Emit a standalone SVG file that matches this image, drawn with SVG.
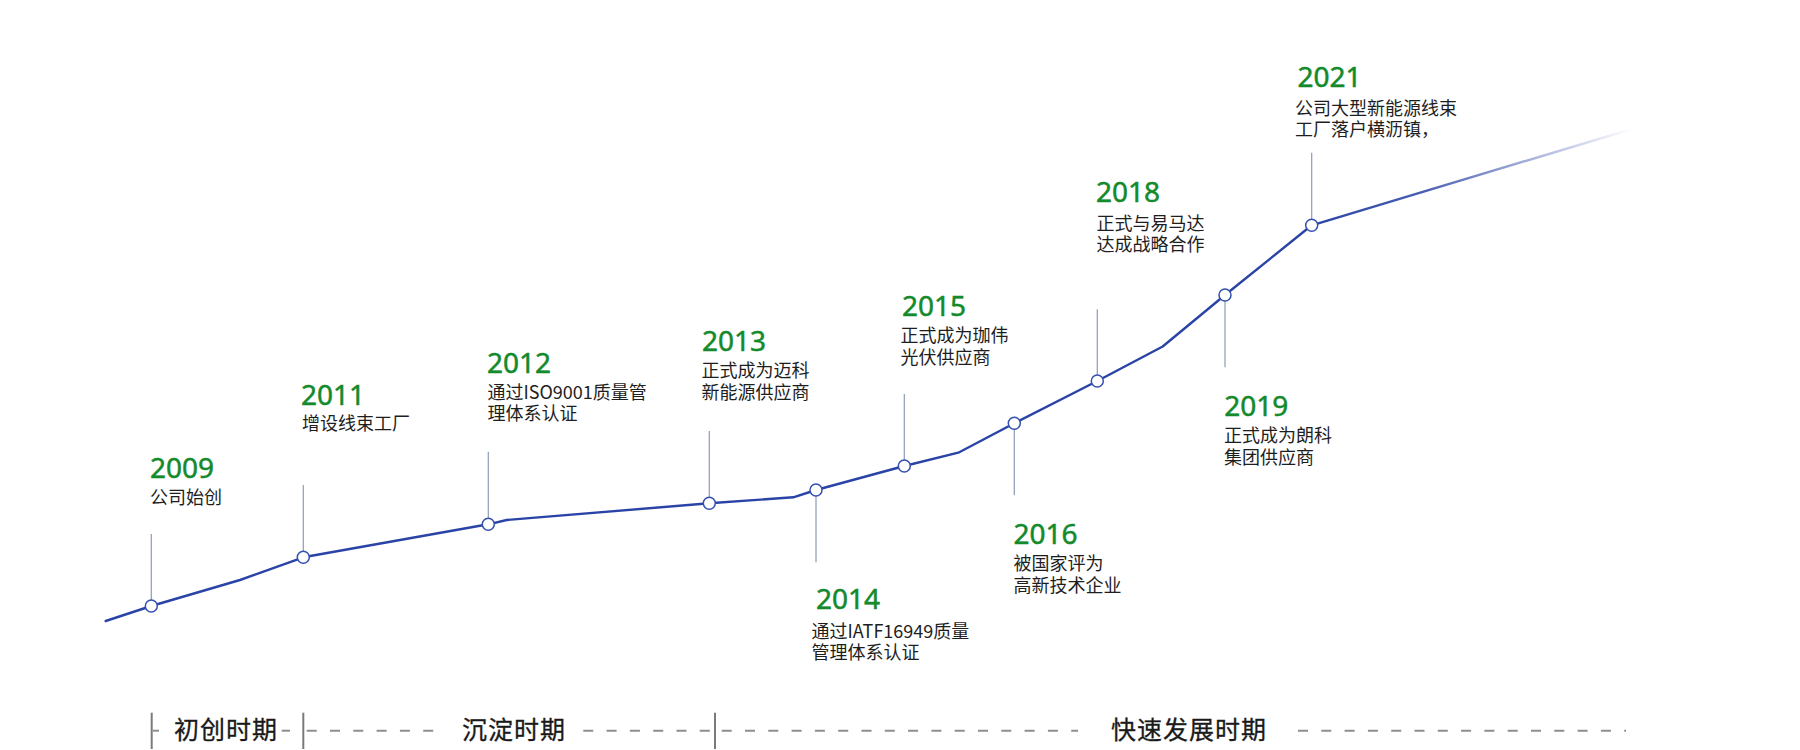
<svg xmlns="http://www.w3.org/2000/svg" width="1800" height="750" viewBox="0 0 1800 750">
  <defs>
    <linearGradient id="fade" gradientUnits="userSpaceOnUse" x1="1311.7" y1="225.3" x2="1632" y2="129">
      <stop offset="0" stop-color="#2a43a6" stop-opacity="1"/>
      <stop offset="0.35" stop-color="#2a43a6" stop-opacity="0.85"/>
      <stop offset="1" stop-color="#2a43a6" stop-opacity="0"/>
    </linearGradient>
    <style>
      .year { font-family: "Noto Sans", "Open Sans", "Noto Sans CJK SC", sans-serif; font-size: 28px; fill: #138a2c; stroke: #138a2c; stroke-width: 0.5px; }
      .desc { font-family: "Noto Sans CJK SC", "Noto Sans", sans-serif; font-size: 18px; fill: #1e1e1e; }
      .phase { font-family: "Noto Sans CJK SC", sans-serif; font-size: 25px; fill: #1a1a1a; letter-spacing: 1px; stroke: #1a1a1a; stroke-width: 0.3px; }
      .tick { stroke: #8d9bb6; stroke-width: 1.2; fill: none; }
      .node { fill: #ffffff; stroke: #3550b0; stroke-width: 1.5; }
      .main { fill: none; stroke: #2a43a6; stroke-width: 2.4; stroke-linejoin: round; stroke-linecap: round; }
      .dash { stroke: #8e8e8e; stroke-width: 2; stroke-dasharray: 10 13.3; fill: none; }
      .ptick { stroke: #7a7a7a; stroke-width: 2; }
    </style>
  </defs>
  <rect width="1800" height="750" fill="#ffffff"/>

  <g id="connectors">
    <polyline class="main" points="105.7,621 151.3,606 240,580 303.3,557.3 488.3,524.3 506.7,520 709.3,503.3 793.3,497.3 816,490 904.3,466 958.3,452.7 1014.3,423.3 1097.3,381 1162.7,346.5 1225,295 1311.7,225.3"/>
    <line x1="1311.7" y1="225.3" x2="1632" y2="129" stroke="url(#fade)" stroke-width="2.4"/>
    <line class="tick" x1="151.3" y1="534" x2="151.3" y2="600"/>
    <line class="tick" x1="303.3" y1="485" x2="303.3" y2="551.5"/>
    <line class="tick" x1="488.3" y1="451.7" x2="488.3" y2="518.5"/>
    <line class="tick" x1="709.3" y1="431" x2="709.3" y2="497.5"/>
    <line class="tick" x1="816" y1="496" x2="816" y2="562.3"/>
    <line class="tick" x1="904.3" y1="394" x2="904.3" y2="460"/>
    <line class="tick" x1="1014.3" y1="429" x2="1014.3" y2="495.3"/>
    <line class="tick" x1="1097.3" y1="309.3" x2="1097.3" y2="375"/>
    <line class="tick" x1="1225" y1="301" x2="1225" y2="367.3"/>
    <line class="tick" x1="1311.7" y1="152.7" x2="1311.7" y2="219.3"/>
  </g>

  <g id="n2009">
    <circle class="node" cx="151.3" cy="606" r="6"/>
    <text class="year" x="150" y="478">2009</text>
    <text class="desc" x="150" y="504">公司始创</text>
  </g>
  <g id="n2011">
    <circle class="node" cx="303.3" cy="557.3" r="6"/>
    <text class="year" x="301" y="405">2011</text>
    <text class="desc" x="302" y="430">增设线束工厂</text>
  </g>
  <g id="n2012">
    <circle class="node" cx="488.3" cy="524.3" r="6"/>
    <text class="year" x="487" y="373.3">2012</text>
    <text class="desc" x="487.5" y="398.5">通过ISO9001质量管</text>
    <text class="desc" x="487.5" y="420">理体系认证</text>
  </g>
  <g id="n2013">
    <circle class="node" cx="709.3" cy="503.3" r="6"/>
    <text class="year" x="702" y="350.7">2013</text>
    <text class="desc" x="701.5" y="376.5">正式成为迈科</text>
    <text class="desc" x="701.5" y="398.5">新能源供应商</text>
  </g>
  <g id="n2014">
    <circle class="node" cx="816" cy="490" r="6"/>
    <text class="year" x="816" y="609.3">2014</text>
    <text class="desc" x="811.5" y="637.5">通过IATF16949质量</text>
    <text class="desc" x="811.5" y="659">管理体系认证</text>
  </g>
  <g id="n2015">
    <circle class="node" cx="904.3" cy="466" r="6"/>
    <text class="year" x="902" y="315.7">2015</text>
    <text class="desc" x="900.5" y="342">正式成为珈伟</text>
    <text class="desc" x="900.5" y="363.5">光伏供应商</text>
  </g>
  <g id="n2016">
    <circle class="node" cx="1014.3" cy="423.3" r="6"/>
    <text class="year" x="1013.5" y="544.3">2016</text>
    <text class="desc" x="1013.5" y="570">被国家评为</text>
    <text class="desc" x="1013.5" y="592">高新技术企业</text>
  </g>
  <g id="n2018">
    <circle class="node" cx="1097.3" cy="381" r="6"/>
    <text class="year" x="1096" y="202.3">2018</text>
    <text class="desc" x="1096.5" y="229.5">正式与易马达</text>
    <text class="desc" x="1096.5" y="250.5">达成战略合作</text>
  </g>
  <g id="n2019">
    <circle class="node" cx="1225" cy="295" r="6"/>
    <text class="year" x="1224.3" y="415.7">2019</text>
    <text class="desc" x="1224" y="442">正式成为朗科</text>
    <text class="desc" x="1224" y="464">集团供应商</text>
  </g>
  <g id="n2021">
    <circle class="node" cx="1311.7" cy="225.3" r="6"/>
    <text class="year" x="1297.5" y="86.7">2021</text>
    <text class="desc" x="1295" y="114.5">公司大型新能源线束</text>
    <text class="desc" x="1295" y="136">工厂落户横沥镇，</text>
  </g>

  <g id="phases">
    <line class="ptick" x1="151.7" y1="712.7" x2="151.7" y2="749"/>
    <line class="ptick" x1="303.3" y1="712.7" x2="303.3" y2="749"/>
    <line class="ptick" x1="715" y1="712.7" x2="715" y2="749"/>
    <line class="dash" x1="153" y1="730.7" x2="159" y2="730.7"/>
    <line class="dash" x1="281.7" y1="730.7" x2="290" y2="730.7"/>
    <line class="dash" x1="306.7" y1="730.7" x2="440" y2="730.7"/>
    <line class="dash" x1="583.3" y1="730.7" x2="713" y2="730.7"/>
    <line class="dash" x1="721.7" y1="730.7" x2="1078" y2="730.7"/>
    <line class="dash" x1="1298" y1="730.7" x2="1626" y2="730.7"/>
    <text class="phase" x="174" y="739">初创时期</text>
    <text class="phase" x="462" y="739">沉淀时期</text>
    <text class="phase" x="1111" y="739">快速发展时期</text>
  </g>
</svg>
